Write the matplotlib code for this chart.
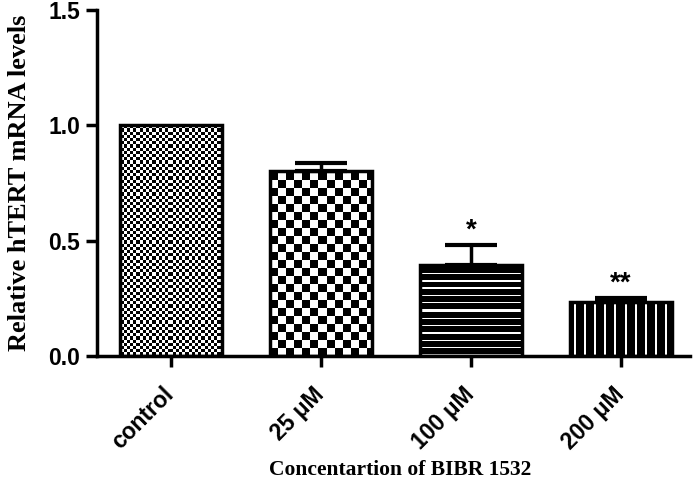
import numpy as np
import matplotlib
matplotlib.use("Agg")
import matplotlib.pyplot as plt

groups = ["control", "25 μM", "100 μM", "200 μM"]
levels = [1.0, 0.80, 0.395, 0.232]
sem = [0.0, 0.038, 0.088, 0.020]
stars = ["", "", "*", "**"]


def pattern(kind, w, h):
    # 1 = white, 0 = black, one cell per screen pixel
    yy, xx = np.indices((h, w))
    if kind == "fine":
        return ((np.floor(xx / 3.2) + np.floor(yy / 3.2)) % 2).astype(float)
    if kind == "coarse":
        return ((np.floor(xx / 8.0) + np.floor(yy / 8.0)) % 2).astype(float)
    if kind == "hlines":
        return ((yy % 7.3) < 1.4).astype(float)
    return (((xx + 6) % 10) < 1.8).astype(float)


kinds = ["fine", "coarse", "hlines", "vlines"]

fig = plt.figure(figsize=(6.99, 4.90), dpi=100)
ax = fig.add_axes([97 / 699, 134 / 490, 593 / 699, 346 / 490])
ax.set_xlim(-0.49, 3.46)
ax.set_ylim(0, 1.5)

x = np.arange(len(groups))
bars = ax.bar(x, levels, width=0.68, facecolor="none", edgecolor="black",
              linewidth=2.5, zorder=3)

fig.canvas.draw()
for b, kind in zip(bars, kinds):
    x0, y0 = b.get_x(), b.get_y()
    x1, y1 = x0 + b.get_width(), y0 + b.get_height()
    (px0, py0), (px1, py1) = ax.transData.transform([(x0, y0), (x1, y1)])
    arr = pattern(kind, int(round(px1 - px0)), int(round(py1 - py0)))
    im = ax.imshow(arr, extent=(x0, x1, y0, y1), origin="lower", cmap="gray",
                   vmin=0, vmax=1, interpolation="nearest", aspect="auto", zorder=2)
    im.set_clip_path(b)

has_err = np.array(sem) > 0
ax.errorbar(x[has_err], np.array(levels)[has_err],
            yerr=[np.zeros(has_err.sum()), np.array(sem)[has_err]], fmt="none",
            ecolor="black", elinewidth=2.5, capsize=19, capthick=3, zorder=4)
for xi, v, e, s in zip(x, levels, sem, stars):
    if s:
        ax.annotate(s, (xi, v + e), xytext=(0, 1), textcoords="offset points",
                    ha="center", va="bottom", fontsize=20, fontweight="bold",
                    family="Liberation Sans")

ax.set_xlim(-0.49, 3.46)
ax.set_ylim(0, 1.5)

for side in ["top", "right"]:
    ax.spines[side].set_visible(False)
for side in ["left", "bottom"]:
    ax.spines[side].set_linewidth(2.5)

ax.set_yticks([0.0, 0.5, 1.0, 1.5])
ax.set_yticklabels(["0.0", "0.5", "1.0", "1.5"], fontsize=16.5, fontweight="bold",
                   family="Liberation Sans")
ax.set_xticks(x)
ax.set_xticklabels(groups, rotation=45, ha="right", va="center",
                   rotation_mode="anchor", fontsize=16.5, fontweight="bold",
                   family="Liberation Sans")
ax.tick_params(axis="both", length=8, width=2.5, pad=4)
ax.tick_params(axis="x", pad=17)

ax.set_ylabel("Relative hTERT mRNA levels", fontsize=19, fontweight="bold",
              family="Liberation Serif")
ax.yaxis.set_label_coords(-0.112, 0.5)
fig.text(0.573, 0.04, "Concentartion of BIBR 1532", ha="center", va="center",
         fontsize=15.5, fontweight="bold", family="Liberation Serif")

fig.savefig("out.png", dpi=100)
